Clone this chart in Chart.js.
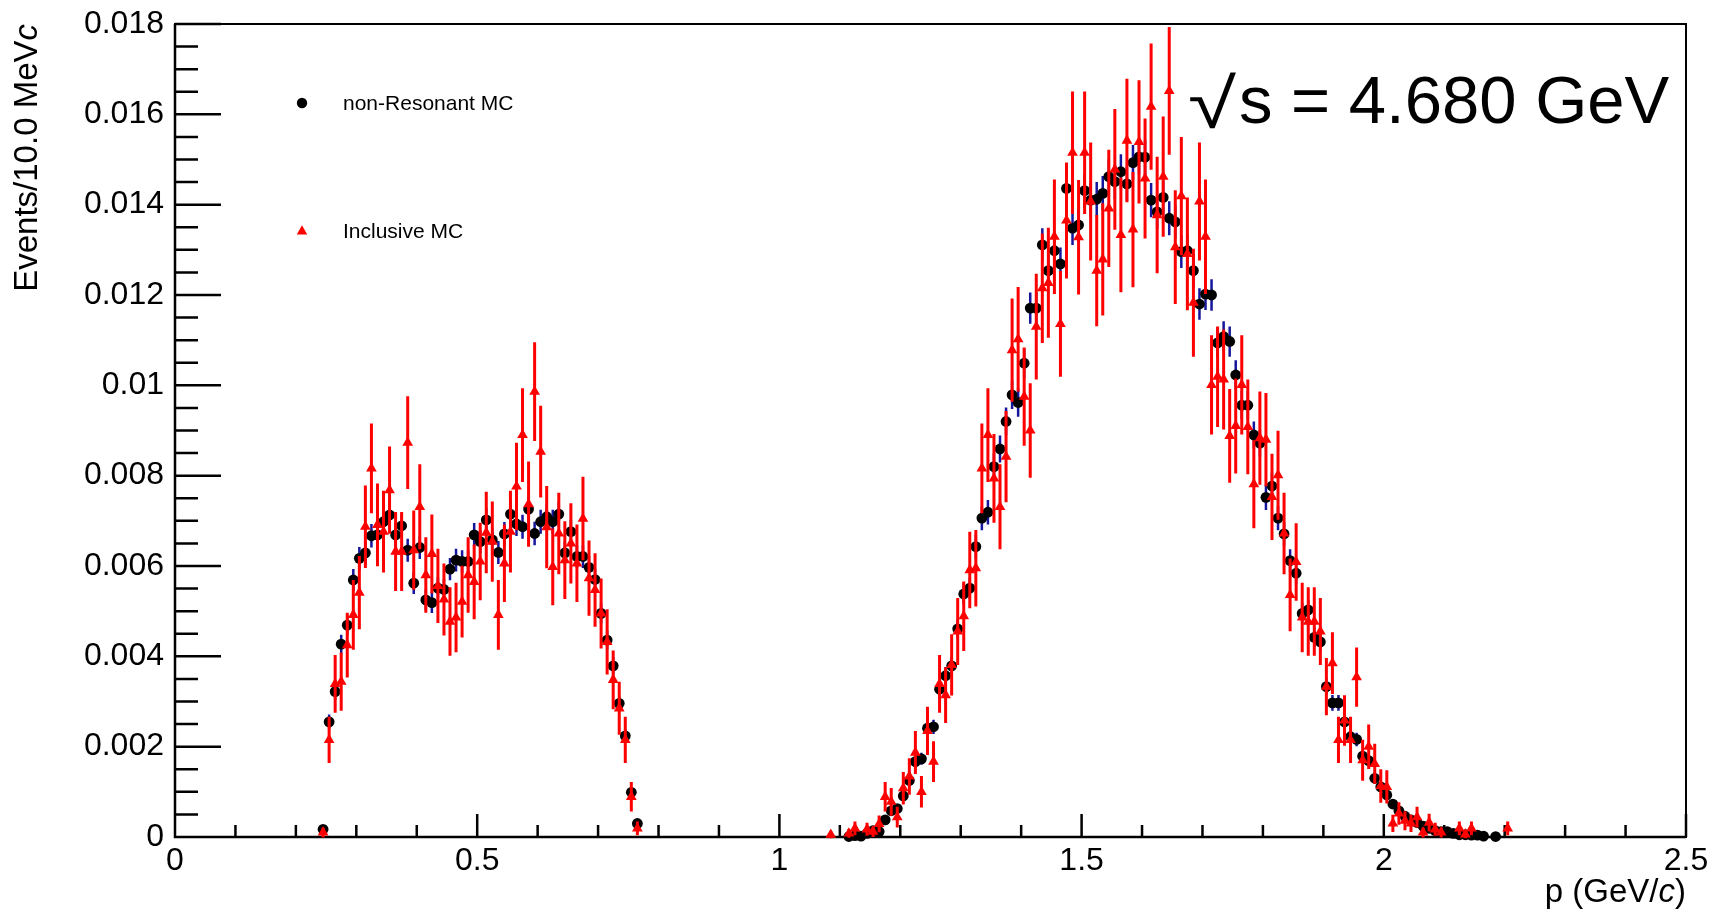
<!DOCTYPE html>
<html>
<head>
<meta charset="utf-8">
<title>Momentum spectrum</title>
<script src="https://cdn.jsdelivr.net/npm/chart.js@4.4.1/dist/chart.umd.min.js"></script>
<style>
  html, body { margin: 0; padding: 0; background: #fff; }
  canvas { display: block; }
</style>
</head>
<body>
<canvas id="momChart" width="1712" height="916"></canvas>
<script>
// ======== Values (bin centres, 10 MeV bins) ========
const pBump = [0.245, 0.255, 0.265, 0.275, 0.285, 0.295, 0.305, 0.315, 0.325, 0.335,
  0.345, 0.355, 0.365, 0.375, 0.385, 0.395, 0.405, 0.415, 0.425, 0.435,
  0.445, 0.455, 0.465, 0.475, 0.485, 0.495, 0.505, 0.515, 0.525, 0.535,
  0.545, 0.555, 0.565, 0.575, 0.585, 0.595, 0.605, 0.615, 0.625, 0.635,
  0.645, 0.655, 0.665, 0.675, 0.685, 0.695, 0.705, 0.715, 0.725, 0.735,
  0.745, 0.755, 0.765];

const nonResBump = [0.00017, 0.00255, 0.00322, 0.00427, 0.00469, 0.00569, 0.00617, 0.00629, 0.00667, 0.00669,
  0.00698, 0.00713, 0.00669, 0.00689, 0.00635, 0.00562, 0.00641, 0.00525, 0.00519, 0.00551,
  0.00548, 0.00593, 0.00613, 0.00610, 0.00610, 0.00669, 0.00654, 0.00702, 0.00658, 0.00630,
  0.00671, 0.00715, 0.00693, 0.00687, 0.00726, 0.00672, 0.00698, 0.00709, 0.00698, 0.00715,
  0.00629, 0.00676, 0.00621, 0.00621, 0.00597, 0.00570, 0.00495, 0.00436, 0.00379, 0.00296,
  0.00224, 0.00099, 0.00030];

const inclBump = [0.00010, 0.00215, 0.00339, 0.00344, 0.00425, 0.00492, 0.00541, 0.00687, 0.00816, 0.00691,
  0.00676, 0.00768, 0.00632, 0.00632, 0.00873, 0.00635, 0.00731, 0.00580, 0.00627, 0.00556,
  0.00526, 0.00477, 0.00486, 0.00521, 0.00580, 0.00565, 0.00610, 0.00674, 0.00654, 0.00492,
  0.00606, 0.00676, 0.00776, 0.00890, 0.00737, 0.00986, 0.00853, 0.00686, 0.00598, 0.00672,
  0.00613, 0.00650, 0.00606, 0.00705, 0.00573, 0.00547, 0.00495, 0.00432, 0.00348, 0.00285,
  0.00215, 0.00089, 0.00019];

const pPeak = [1.085, 1.095, 1.105, 1.115, 1.125, 1.135, 1.145, 1.155, 1.165, 1.175,
  1.185, 1.195, 1.205, 1.215, 1.225, 1.235, 1.245, 1.255, 1.265, 1.275,
  1.285, 1.295, 1.305, 1.315, 1.325, 1.335, 1.345, 1.355, 1.365, 1.375,
  1.385, 1.395, 1.405, 1.415, 1.425, 1.435, 1.445, 1.455, 1.465, 1.475,
  1.485, 1.495, 1.505, 1.515, 1.525, 1.535, 1.545, 1.555, 1.565, 1.575,
  1.585, 1.595, 1.605, 1.615, 1.625, 1.635, 1.645, 1.655, 1.665, 1.675,
  1.685, 1.695, 1.705, 1.715, 1.725, 1.735, 1.745, 1.755, 1.765, 1.775,
  1.785, 1.795, 1.805, 1.815, 1.825, 1.835, 1.845, 1.855, 1.865, 1.875,
  1.885, 1.895, 1.905, 1.915, 1.925, 1.935, 1.945, 1.955, 1.965, 1.975,
  1.985, 1.995, 2.005, 2.015, 2.025, 2.035, 2.045, 2.055, 2.065, 2.075,
  2.085, 2.095, 2.105, 2.115, 2.125, 2.135, 2.145, 2.155, 2.165, 2.175,
  2.185, 2.195, 2.205];

const nonResPeak = [null, null, null, 0.00001, 0.00003, 0.00002, 0.00008, 0.00014, 0.00012, 0.00038,
  0.00058, 0.00063, 0.00091, 0.00125, 0.00167, 0.00173, 0.00241, 0.00244, 0.00327, 0.00357,
  0.00379, 0.00461, 0.00538, 0.00551, 0.00643, 0.00706, 0.00719, 0.00820, 0.00859, 0.00920,
  0.00979, 0.00962, 0.01049, 0.01171, 0.01171, 0.01311, 0.01254, 0.01298, 0.01269, 0.01436,
  0.01348, 0.01355, 0.01431, 0.01410, 0.01412, 0.01425, 0.01462, 0.01451, 0.01473, 0.01446,
  0.01493, 0.01506, 0.01505, 0.01410, 0.01384, 0.01416, 0.01370, 0.01362, 0.01296, 0.01298,
  0.01254, 0.01180, 0.01202, 0.01200, 0.01094, 0.01108, 0.01097, 0.01023, 0.00956, 0.00956,
  0.00890, 0.00872, 0.00752, 0.00777, 0.00706, 0.00671, 0.00612, 0.00584, 0.00495, 0.00503,
  0.00442, 0.00432, 0.00333, 0.00297, 0.00297, 0.00255, 0.00222, 0.00216, 0.00179, 0.00169,
  0.00130, 0.00111, 0.00093, 0.00073, 0.00058, 0.00046, 0.00038, 0.00032, 0.00024, 0.00019,
  0.00014, 0.00012, 0.00012, 0.00008, 0.00005, 0.00005, 0.00004, 0.00004, 0.00002, null,
  0.00001, null, null];

const inclPeak = [0.00005, null, null, 0.00008, 0.00019, null, 0.00017, 0.00012, 0.00029, 0.00089,
  0.00078, 0.00044, 0.00108, 0.00134, 0.00187, 0.00100, 0.00235, 0.00167, 0.00339, 0.00314,
  0.00381, 0.00455, 0.00489, 0.00591, 0.00595, 0.00816, 0.00890, 0.00794, 0.00731, 0.00842,
  0.01078, 0.01102, 0.00975, 0.00900, 0.01130, 0.01215, 0.01227, 0.01329, 0.01136, 0.01365,
  0.01515, 0.01328, 0.01515, 0.01407, 0.01254, 0.01279, 0.01392, 0.01478, 0.01333, 0.01542,
  0.01345, 0.01539, 0.01458, 0.01617, 0.01377, 0.01462, 0.01652, 0.01306, 0.01419, 0.01291,
  0.01183, 0.01407, 0.01329, 0.01001, 0.01019, 0.01013, 0.00888, 0.00910, 0.01001, 0.00908,
  0.00781, 0.00883, 0.00880, 0.00753, 0.00801, 0.00672, 0.00536, 0.00609, 0.00486, 0.00477,
  0.00477, 0.00455, 0.00333, 0.00385, 0.00215, 0.00258, 0.00215, 0.00354, 0.00170, 0.00200,
  0.00162, 0.00113, 0.00111, 0.00030, 0.00052, 0.00036, 0.00030, 0.00044, 0.00010, 0.00032,
  0.00017, 0.00010, null, null, 0.00019, 0.00006, 0.00019, null, null, null,
  null, null, 0.00019];

const xTicks = [0, 0.5, 1, 1.5, 2, 2.5];
const yTicks = [0, 0.002, 0.004, 0.006, 0.008, 0.01, 0.012, 0.014, 0.016, 0.018];

// statistical error ~ k * sqrt(content), scale
const errScaleNonRes = 0.0032;
const errScaleIncl = 0.011;

function toPoints(ps, vs, k) {
    const out = [];
    ps.forEach((p, i) => {
        if (vs[i] == null) return;
        out.push({ x: p, y: vs[i], err: k * Math.sqrt(vs[i]) });
    });
    return out;
}

const nonResPoints = toPoints(pBump, nonResBump, errScaleNonRes).concat(toPoints(pPeak, nonResPeak, errScaleNonRes));
const inclPoints = toPoints(pBump, inclBump, errScaleIncl).concat(toPoints(pPeak, inclPeak, errScaleIncl));

const FONT = '"Liberation Sans", Arial, Helvetica, sans-serif';
Chart.defaults.font.family = FONT;
Chart.defaults.color = '#000';

// ======== Error bars drawn just before each dataset's markers ========
const errorBars = {
    id: 'errorBars',
    beforeDatasetDraw(chart, args) {
        const ds = chart.data.datasets[args.index];
        const { ctx, scales: { x, y } } = chart;
        ctx.save();
        ctx.strokeStyle = ds.errColor;
        ctx.lineWidth = ds.errWidth;
        ctx.beginPath();
        ds.data.forEach(pt => {
            const px = x.getPixelForValue(pt.x);
            ctx.moveTo(px, y.getPixelForValue(pt.y - pt.err));
            ctx.lineTo(px, y.getPixelForValue(pt.y + pt.err));
        });
        ctx.stroke();
        ctx.restore();
    }
};

// ======== ROOT style frame with inner ticks ========
const frameTicks = {
    id: 'frameTicks',
    beforeDatasetsDraw(chart) {
        const { ctx, chartArea: ca, scales: { x, y } } = chart;
        ctx.save();
        ctx.strokeStyle = '#000';
        ctx.lineWidth = 2;
        ctx.strokeRect(ca.left, ca.top, ca.right - ca.left, ca.bottom - ca.top);
        ctx.lineWidth = 2.5;
        ctx.beginPath();
        ctx.moveTo(ca.left, ca.top);
        ctx.lineTo(ca.left, ca.bottom);
        ctx.lineTo(ca.right, ca.bottom);
        for (let i = 0; i <= 36; i++) {
            const py = y.getPixelForValue(i * 0.0005);
            ctx.moveTo(ca.left, py);
            ctx.lineTo(ca.left + (i % 4 === 0 ? 46 : 23), py);
        }
        for (let i = 0; i <= 25; i++) {
            const px = x.getPixelForValue(i * 0.1);
            ctx.moveTo(px, ca.bottom);
            ctx.lineTo(px, ca.bottom - (i % 5 === 0 ? 23 : 12));
        }
        ctx.stroke();
        ctx.restore();
    }
};

// ======== Legend, energy label and axis titles ========
const annotations = {
    id: 'annotations',
    afterDraw(chart) {
        const { ctx, chartArea: ca } = chart;
        ctx.save();
        ctx.fillStyle = '#000';

        // legend
        const lx = ca.left + 127;
        ctx.beginPath();
        ctx.arc(lx, ca.top + 79, 5.2, 0, Math.PI * 2);
        ctx.fill();
        ctx.fillStyle = '#ff0000';
        const ty = ca.top + 207;
        ctx.beginPath();
        ctx.moveTo(lx, ty - 5.8);
        ctx.lineTo(lx + 5.2, ty + 3.5);
        ctx.lineTo(lx - 5.2, ty + 3.5);
        ctx.closePath();
        ctx.fill();
        ctx.fillStyle = '#000';
        ctx.font = '21px ' + FONT;
        ctx.textBaseline = 'middle';
        ctx.fillText('non-Resonant MC', ca.left + 168, ca.top + 80);
        ctx.fillText('Inclusive MC', ca.left + 168, ca.top + 208);

        // energy label, with a wide root sign
        ctx.textBaseline = 'alphabetic';
        ctx.save();
        ctx.translate(ca.left + 1013, ca.top + 104);
        ctx.scale(1.25, 1);
        ctx.font = '70px ' + FONT;
        ctx.fillText('\u221A', 0, 0);
        ctx.restore();
        ctx.font = '67px ' + FONT;
        ctx.fillText('s = 4.680 GeV', ca.left + 1064, ca.top + 99);

        // x title: p (GeV/c)
        ctx.font = '33px ' + FONT;
        let xr = ca.right;
        const base = ca.bottom + 65;
        ctx.textAlign = 'right';
        ctx.fillText(')', xr, base);
        xr -= ctx.measureText(')').width;
        ctx.font = 'italic 33px ' + FONT;
        ctx.fillText('c', xr, base);
        xr -= ctx.measureText('c').width;
        ctx.font = '33px ' + FONT;
        ctx.fillText('p (GeV/', xr, base);

        // y title: Events/10.0 MeVc
        ctx.translate(37, ca.top);
        ctx.rotate(-Math.PI / 2);
        ctx.font = 'italic 33px ' + FONT;
        ctx.fillText('c', 0, 0);
        const cw = ctx.measureText('c').width;
        ctx.font = '33px ' + FONT;
        ctx.fillText('Events/10.0 MeV', -cw, 0);
        ctx.restore();
    }
};

const fmt = v => String(+Number(v).toFixed(4));

new Chart(document.getElementById('momChart'), {
    type: 'scatter',
    data: {
        datasets: [
            {
                label: 'Inclusive MC',
                data: inclPoints,
                pointStyle: 'triangle',
                pointRadius: 6.2,
                backgroundColor: '#ff0000',
                borderColor: '#ff0000',
                borderWidth: 0,
                clip: false,
                errColor: '#ff0000',
                errWidth: 3
            },
            {
                label: 'non-Resonant MC',
                data: nonResPoints,
                pointStyle: 'circle',
                pointRadius: 5.4,
                backgroundColor: '#000',
                borderColor: '#000',
                borderWidth: 0,
                clip: false,
                errColor: '#16169c',
                errWidth: 2.5
            }
        ]
    },
    options: {
        responsive: false,
        animation: false,
        events: [],
        layout: { padding: { left: 0, right: 26, top: 24, bottom: 0 } },
        plugins: { legend: { display: false }, tooltip: { enabled: false } },
        scales: {
            x: {
                type: 'linear',
                min: 0,
                max: 2.5,
                afterBuildTicks: s => { s.ticks = xTicks.map(v => ({ value: v })); },
                afterFit: s => { s.height = 79; s.paddingLeft = 0; s.paddingRight = 0; },
                grid: { display: false, drawTicks: false },
                border: { display: false },
                ticks: { font: { size: 32 }, color: '#000', padding: 5, maxRotation: 0, callback: fmt }
            },
            y: {
                type: 'linear',
                min: 0,
                max: 0.018,
                afterBuildTicks: s => { s.ticks = yTicks.map(v => ({ value: v })); },
                afterFit: s => { s.width = 175; s.paddingTop = 0; s.paddingBottom = 0; },
                grid: { display: false, drawTicks: false },
                border: { display: false },
                ticks: { font: { size: 32 }, color: '#000', padding: 11, callback: fmt }
            }
        }
    },
    plugins: [frameTicks, errorBars, annotations]
});
</script>
</body>
</html>
